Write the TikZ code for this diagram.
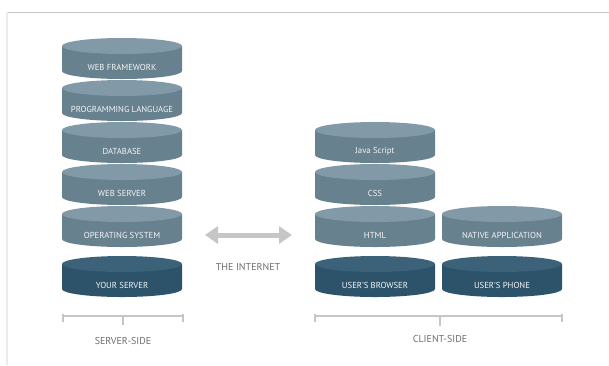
\documentclass[tikz,border=0pt]{standalone}
\usepackage{fontspec}
\setmainfont{PT Sans}
\usetikzlibrary{arrows.meta}
\definecolor{layerbody}{HTML}{67818F}
\definecolor{layertop}{HTML}{8299A8}
\definecolor{basebody}{HTML}{2D536A}
\definecolor{basetop}{HTML}{3B6278}
\definecolor{labelgray}{HTML}{6E6E6E}
\definecolor{rulegray}{HTML}{C6C6C6}
\begin{document}
\begin{tikzpicture}[x=1pt, y=-1pt,
        disktext/.style={text=white!92!layerbody, font=\fontsize{8.7}{9}\selectfont, inner sep=0pt},
        pics/disk/.style n args={3}{code={
            \fill[#1] (-60,8) -- (-60,33) arc[start angle=180, end angle=0, x radius=60, y radius=8] -- (60,8) -- cycle;
            \fill[#2] (0,8) ellipse[x radius=60, y radius=8];
            \node[disktext] (-label) at (0,29) {#3};
        }},
        bracket/.style={draw=rulegray, line width=1.1pt},
        caption/.style={text=labelgray, font=\fontsize{10}{11}\selectfont}]
        \useasboundingbox (0,0) rectangle (609,365);

        % Frame
        \draw[rulegray, line width=1pt] (7,12) -- (609,12);
        \draw[black!8, line width=1.5pt] (7,12) -- (7,365);

        % Server side
        \pic (webframework) at (122,38) {disk={layerbody}{layertop}{WEB FRAMEWORK}};
        \pic (proglanguage) at (122,80) {disk={layerbody}{layertop}{PROGRAMMING LANGUAGE}};
        \pic (database) at (122,122) {disk={layerbody}{layertop}{DATABASE}};
        \pic (webserver) at (122,164) {disk={layerbody}{layertop}{WEB SERVER}};
        \pic (opsystem) at (122,206) {disk={layerbody}{layertop}{OPERATING SYSTEM}};
        \pic (yourserver) at (122,256) {disk={basebody}{basetop}{YOUR SERVER}};

        % Client side
        \pic (javascript) at (375,122) {disk={layerbody}{layertop}{Java Script}};
        \pic (css) at (375,164) {disk={layerbody}{layertop}{CSS}};
        \pic (html) at (375,206) {disk={layerbody}{layertop}{HTML}};
        \pic (browser) at (375,256) {disk={basebody}{basetop}{USER'S BROWSER}};
        \pic (nativeapp) at (502,206) {disk={layerbody}{layertop}{NATIVE APPLICATION}};
        \pic (phone) at (502,256) {disk={basebody}{basetop}{USER'S PHONE}};

        % The internet
        \coordinate (netL) at (205,235);
        \coordinate (netR) at (292,235);
        \draw[rulegray, line width=5pt, {Triangle[length=13pt,width=17pt]}-{Triangle[length=13pt,width=17pt]}] (netL) -- (netR);
        \node[caption] (internet) at (248,267) {THE INTERNET};

        % Brackets
        \coordinate (srvL) at (63,316);
        \coordinate (srvR) at (183,316);
        \coordinate (srvM) at (123,316);
        \draw[bracket] ([yshift=-6pt]srvL) -- ([yshift=2pt]srvL) -- (srvL) -- (srvR) -- ([yshift=2pt]srvR) -- ([yshift=-6pt]srvR);
        \draw[bracket] (srvM) -- ++(0,9) coordinate (srvT);
        \node[caption] (serverside) at (123,341) {SERVER-SIDE};

        \coordinate (cliL) at (315,316);
        \coordinate (cliR) at (562,316);
        \coordinate (cliM) at (440,316);
        \draw[bracket] ([yshift=-6pt]cliL) -- ([yshift=2pt]cliL) -- (cliL) -- (cliR) -- ([yshift=2pt]cliR) -- ([yshift=-6pt]cliR);
        \draw[bracket] (cliM) -- ++(0,10) coordinate (cliT);
        \node[caption] (clientside) at (440,339) {CLIENT-SIDE};

    \end{tikzpicture}
\end{document}
